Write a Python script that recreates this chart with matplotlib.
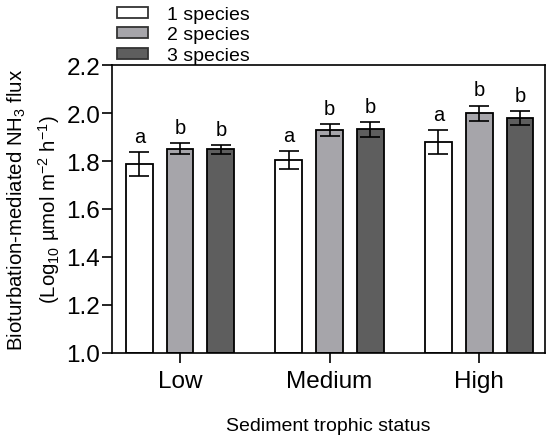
import matplotlib
matplotlib.use('Agg')
import matplotlib.pyplot as plt
import numpy as np

plt.rcParams['font.family'] = ['Liberation Sans', 'DejaVu Sans']
plt.rcParams['mathtext.fontset'] = 'custom'
plt.rcParams['mathtext.rm'] = 'Liberation Sans'
plt.rcParams['mathtext.it'] = 'Liberation Sans:italic'

# data
groups = ['Low', 'Medium', 'High']
series = ['1 species', '2 species', '3 species']
means = [[1.786, 1.803, 1.880],
         [1.852, 1.930, 1.999],
         [1.848, 1.932, 1.980]]
errs = [[0.050, 0.037, 0.050],
        [0.024, 0.025, 0.032],
        [0.018, 0.031, 0.029]]
letters = [['a', 'a', 'a'],
           ['b', 'b', 'b'],
           ['b', 'b', 'b']]
colors = ['#ffffff', '#a6a5aa', '#5e5e5e']

fig = plt.figure(figsize=(5.5, 4.39), dpi=100)
ax = fig.add_axes([112/550, 1-354/439, 433/550, 288/439])

x = np.arange(len(groups))
w = 0.179
off = 0.2727
for i in range(3):
    pos = x + (i - 1)*off
    ax.bar(pos, np.array(means[i]) - 1.0, w, bottom=1.0, color=colors[i],
           edgecolor='black', linewidth=1.3, label=series[i], zorder=2)
    ax.errorbar(pos, means[i], yerr=errs[i], fmt='none', ecolor='black',
                elinewidth=1.2, capsize=7.5, capthick=1.2, zorder=3)
    for j in range(3):
        ax.annotate(letters[i][j], (pos[j], means[i][j] + errs[i][j]),
                    xytext=(0, 4.5), textcoords='offset points',
                    ha='center', va='bottom', fontsize=14.5)

ax.set_xlim(-0.455, 2.44)
ax.set_ylim(1.0, 2.2)
ax.set_yticks(np.arange(1.0, 2.21, 0.2))
ax.set_yticklabels(['%.1f' % v for v in np.arange(1.0, 2.21, 0.2)])
ax.set_xticks(x)
ax.set_xticklabels(groups)
ax.tick_params(direction='out', length=7, width=1.2, labelsize=17.5)
ax.tick_params(axis='y', pad=1.5)
ax.tick_params(axis='x', pad=5.5)
for s in ax.spines.values():
    s.set_linewidth(1.2)

ax.set_xlabel('Sediment trophic status', fontsize=14, labelpad=18)
ax.set_ylabel('Bioturbation-mediated NH$_3$ flux\n(Log$_{10}$ µmol m$^{-2}$ h$^{-1}$)',
              fontsize=14.7, labelpad=3, linespacing=1.4)

leg = fig.legend(loc='upper left', bbox_to_anchor=(115/550, 1 - 5/439), frameon=False,
                 fontsize=14, handlelength=1.6, handleheight=0.5, labelspacing=0.18,
                 handletextpad=0.95, borderaxespad=0.0, borderpad=0.1)
for h in leg.legend_handles:
    h.set_edgecolor('#333333')

fig.savefig('out.png', dpi=100)
